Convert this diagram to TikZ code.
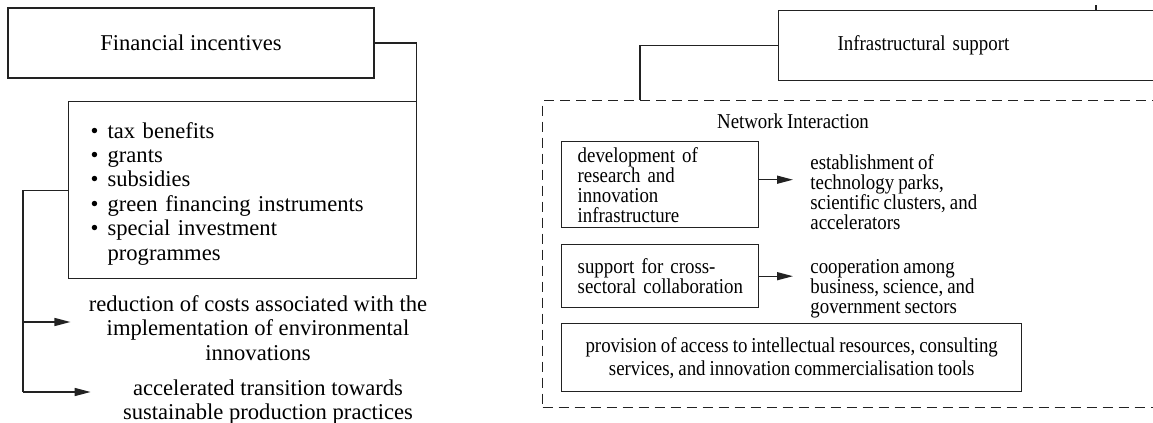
\documentclass[tikz,border=0pt]{standalone}
\usepackage{fontspec}
\setmainfont{Liberation Serif}
\newfontfamily\narrowserif[FakeStretch=0.89, WordSpace=0.85]{Liberation Serif}
\usetikzlibrary{arrows.meta, positioning, calc}
\definecolor{mline}{HTML}{222222}
\tikzset{
  sbox/.style={draw=mline, line width=0.7pt, rectangle, inner sep=0pt},
  netbox/.style={draw=mline, line width=0.7pt, dash pattern=on 5pt off 3pt,
                 rectangle, inner sep=0pt},
  link/.style={draw=mline, line width=0.7pt},
  arr/.style={-{Triangle[length=8pt,width=4pt]}, line width=0.7pt, mline},
  lfont/.style={font=\fontsize{11.3}{12.2}\selectfont},
  rfont/.style={font=\narrowserif\fontsize{10.6}{10}\selectfont},
}

\begin{document}
\begin{tikzpicture}[x=0.5pt, y=-0.5pt]
  \useasboundingbox (0,0) rectangle (1153,423);
  \clip (0,0) rectangle (1153,423);

  % Left block: financial incentives
  \node[sbox, lfont, minimum width=183pt, minimum height=35pt] (fin) at (191,43)
    {Financial incentives};

  \node[sbox, lfont, anchor=north west, minimum width=174pt, minimum height=88.5pt,
        text width=152pt, inner xsep=11pt, align=left] (tools) at (68,101)
    {\setlength{\tabcolsep}{0pt}%
     \raisebox{-2pt}[\height][\depth]{%
     \begin{tabular}{l@{\hspace{4.5pt}}l}
       \textbullet & tax benefits\\
       \textbullet & grants\\
       \textbullet & subsidies\\
       \textbullet & green financing instruments\\
       \textbullet & special investment\\
                   & programmes
     \end{tabular}}};

  \node[lfont, align=center, inner xsep=9pt, inner ysep=0pt] (costs) at (258,328)
    {reduction of costs associated with the\\implementation of environmental\\innovations};

  \node[lfont, align=center, inner xsep=16pt, inner ysep=0pt] (accel) at (268,402)
    {accelerated transition towards\\sustainable production practices};

  % Connectors on the left
  \coordinate (split) at (23,322);
  \coordinate (trunk) at (23,392);
  \draw[link] (fin.east) -| ([xshift=-0.35pt]tools.north east);
  \draw[link] (tools.west) -| (trunk);
  \draw[arr] (split) -- (split -| costs.west);
  \draw[arr] (trunk) -- (trunk -| accel.west);

  % Right block: infrastructural support
  \node[sbox, rfont, anchor=north west, minimum width=250pt, minimum height=35pt,
        text width=191pt, inner xsep=29.5pt, align=left] (infra) at (778,10)
    {Infrastructural support};

  \node[netbox, anchor=north west, minimum width=330pt, minimum height=153.5pt]
    (net) at (542,100) {};
  \node[rfont] (nettitle) at (793,121) {Network Interaction};

  \node[sbox, rfont, anchor=north west, minimum width=98.5pt, minimum height=43pt,
        text width=82.5pt, inner xsep=8pt, align=left] (dev) at (561,141)
    {development of\\research and\\innovation\\infrastructure};

  \node[sbox, rfont, anchor=north west, minimum width=98.5pt, minimum height=31.5pt,
        text width=82.5pt, inner xsep=8pt, align=left] (collab) at (561,244)
    {support for cross-\\\mbox{sectoral collaboration}};

  \node[sbox, rfont, font=\narrowserif\fontsize{10.6}{11.5}\selectfont,
        anchor=north west, minimum width=230pt, minimum height=34pt,
        align=center] (access) at (561,323)
    {provision of access to intellectual resources, consulting\\
     services, and innovation commercialisation tools};

  \node[rfont, anchor=west, align=left, inner xsep=8.5pt] (parks) at (793,192)
    {establishment of\\technology parks,\\scientific clusters, and\\accelerators};

  \node[rfont, anchor=west, align=left, inner xsep=8.5pt] (coop) at (793,289)
    {cooperation among\\business, science, and\\government sectors};

  % Connectors on the right
  \coordinate (netin) at (640,100);
  \coordinate (stub) at (1096,5);
  \draw[link] (infra.west) -| (netin);
  \draw[link] (stub) -- (stub |- infra.north);
  \draw[arr] ([yshift=2.5pt]dev.east) -- ([yshift=2.5pt]dev.east -| parks.west);
  \draw[arr] (collab.east) -- (collab.east -| coop.west);

\end{tikzpicture}
\end{document}
